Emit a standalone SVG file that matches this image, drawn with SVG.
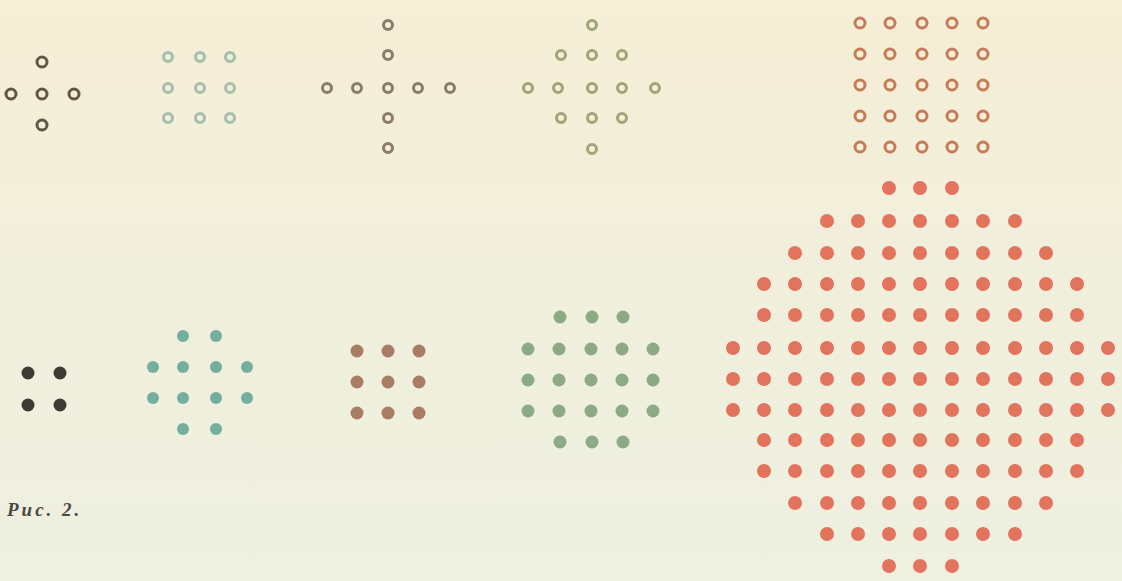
<svg xmlns="http://www.w3.org/2000/svg" width="1122" height="581" viewBox="0 0 1122 581">
<defs>
<linearGradient id="bg" x1="0" y1="0" x2="0" y2="1">
<stop offset="0" stop-color="#f6eed6"/>
<stop offset="0.45" stop-color="#f1efdc"/>
<stop offset="1" stop-color="#eef0e0"/>
</linearGradient>
<style>
.h{fill:none;stroke-width:3}
.h1{stroke:#605646}
.h2{stroke:#a3bdae}
.h3{stroke:#8c7a6a}
.h4{stroke:#9ea677}
.h5{stroke:#c57b55}
.f1{fill:#3f3a33}
.f2{fill:#74ae9e}
.f3{fill:#a97c64}
.f4{fill:#8caa84}
.f5{fill:#e2735c}
.cap{font-family:"Liberation Serif",serif;font-weight:bold;font-style:italic;font-size:19px;letter-spacing:3px;fill:#4d4842}
</style>
</defs>
<rect width="1122" height="581" fill="url(#bg)"/>

<g id="cross5" class="h h1">
<circle cx="42" cy="62" r="5"/>
<circle cx="11" cy="94" r="5"/><circle cx="42" cy="94" r="5"/><circle cx="74" cy="94" r="5"/>
<circle cx="42" cy="125" r="5"/>
</g>

<g id="square9" class="h h2">
<circle cx="168" cy="57" r="4.5"/><circle cx="200" cy="57" r="4.5"/><circle cx="230" cy="57" r="4.5"/>
<circle cx="168" cy="88" r="4.5"/><circle cx="200" cy="88" r="4.5"/><circle cx="230" cy="88" r="4.5"/>
<circle cx="168" cy="118" r="4.5"/><circle cx="200" cy="118" r="4.5"/><circle cx="230" cy="118" r="4.5"/>
</g>

<g id="cross9" class="h h3">
<circle cx="388" cy="25" r="4.5"/>
<circle cx="388" cy="55" r="4.5"/>
<circle cx="327" cy="88" r="4.5"/><circle cx="357" cy="88" r="4.5"/><circle cx="388" cy="88" r="4.5"/><circle cx="418" cy="88" r="4.5"/><circle cx="450" cy="88" r="4.5"/>
<circle cx="388" cy="118" r="4.5"/>
<circle cx="388" cy="148" r="4.5"/>
</g>

<g id="diamond13" class="h h4">
<circle cx="592" cy="25" r="4.5"/>
<circle cx="561" cy="55" r="4.5"/><circle cx="592" cy="55" r="4.5"/><circle cx="622" cy="55" r="4.5"/>
<circle cx="528" cy="88" r="4.5"/><circle cx="558" cy="88" r="4.5"/><circle cx="592" cy="88" r="4.5"/><circle cx="622" cy="88" r="4.5"/><circle cx="655" cy="88" r="4.5"/>
<circle cx="561" cy="118" r="4.5"/><circle cx="592" cy="118" r="4.5"/><circle cx="622" cy="118" r="4.5"/>
<circle cx="592" cy="149" r="4.5"/>
</g>

<g id="square25" class="h h5">
<circle cx="860" cy="23" r="5"/><circle cx="890" cy="23" r="5"/><circle cx="922" cy="23" r="5"/><circle cx="952" cy="23" r="5"/><circle cx="983" cy="23" r="5"/>
<circle cx="860" cy="54" r="5"/><circle cx="890" cy="54" r="5"/><circle cx="922" cy="54" r="5"/><circle cx="952" cy="54" r="5"/><circle cx="983" cy="54" r="5"/>
<circle cx="860" cy="85" r="5"/><circle cx="890" cy="85" r="5"/><circle cx="922" cy="85" r="5"/><circle cx="952" cy="85" r="5"/><circle cx="983" cy="85" r="5"/>
<circle cx="860" cy="116" r="5"/><circle cx="890" cy="116" r="5"/><circle cx="922" cy="116" r="5"/><circle cx="952" cy="116" r="5"/><circle cx="983" cy="116" r="5"/>
<circle cx="860" cy="147" r="5"/><circle cx="890" cy="147" r="5"/><circle cx="922" cy="147" r="5"/><circle cx="952" cy="147" r="5"/><circle cx="983" cy="147" r="5"/>
</g>

<g id="dots4" class="f1">
<circle cx="28" cy="373" r="6.5"/><circle cx="60" cy="373" r="6.5"/>
<circle cx="28" cy="405" r="6.5"/><circle cx="60" cy="405" r="6.5"/>
</g>

<g id="dots12" class="f2">
<circle cx="183" cy="336" r="6"/><circle cx="216" cy="336" r="6"/>
<circle cx="153" cy="367" r="6"/><circle cx="183" cy="367" r="6"/><circle cx="216" cy="367" r="6"/><circle cx="247" cy="367" r="6"/>
<circle cx="153" cy="398" r="6"/><circle cx="183" cy="398" r="6"/><circle cx="216" cy="398" r="6"/><circle cx="247" cy="398" r="6"/>
<circle cx="183" cy="429" r="6"/><circle cx="216" cy="429" r="6"/>
</g>

<g id="dots9" class="f3">
<circle cx="357" cy="351" r="6.5"/><circle cx="388" cy="351" r="6.5"/><circle cx="419" cy="351" r="6.5"/>
<circle cx="357" cy="382" r="6.5"/><circle cx="388" cy="382" r="6.5"/><circle cx="419" cy="382" r="6.5"/>
<circle cx="357" cy="413" r="6.5"/><circle cx="388" cy="413" r="6.5"/><circle cx="419" cy="413" r="6.5"/>
</g>

<g id="dots21" class="f4">
<circle cx="560" cy="317" r="6.5"/><circle cx="592" cy="317" r="6.5"/><circle cx="623" cy="317" r="6.5"/>
<circle cx="528" cy="349" r="6.5"/><circle cx="559" cy="349" r="6.5"/><circle cx="591" cy="349" r="6.5"/><circle cx="622" cy="349" r="6.5"/><circle cx="653" cy="349" r="6.5"/>
<circle cx="528" cy="380" r="6.5"/><circle cx="559" cy="380" r="6.5"/><circle cx="591" cy="380" r="6.5"/><circle cx="622" cy="380" r="6.5"/><circle cx="653" cy="380" r="6.5"/>
<circle cx="528" cy="411" r="6.5"/><circle cx="559" cy="411" r="6.5"/><circle cx="591" cy="411" r="6.5"/><circle cx="622" cy="411" r="6.5"/><circle cx="653" cy="411" r="6.5"/>
<circle cx="560" cy="442" r="6.5"/><circle cx="592" cy="442" r="6.5"/><circle cx="623" cy="442" r="6.5"/>
</g>

<g id="dots121" class="f5">
<circle cx="889" cy="188" r="7"/><circle cx="920" cy="188" r="7"/><circle cx="952" cy="188" r="7"/>
<circle cx="827" cy="221" r="7"/><circle cx="858" cy="221" r="7"/><circle cx="889" cy="221" r="7"/><circle cx="920" cy="221" r="7"/><circle cx="952" cy="221" r="7"/><circle cx="983" cy="221" r="7"/><circle cx="1015" cy="221" r="7"/>
<circle cx="795" cy="253" r="7"/><circle cx="827" cy="253" r="7"/><circle cx="858" cy="253" r="7"/><circle cx="889" cy="253" r="7"/><circle cx="920" cy="253" r="7"/><circle cx="952" cy="253" r="7"/><circle cx="983" cy="253" r="7"/><circle cx="1015" cy="253" r="7"/><circle cx="1046" cy="253" r="7"/>
<circle cx="764" cy="284" r="7"/><circle cx="795" cy="284" r="7"/><circle cx="827" cy="284" r="7"/><circle cx="858" cy="284" r="7"/><circle cx="889" cy="284" r="7"/><circle cx="920" cy="284" r="7"/><circle cx="952" cy="284" r="7"/><circle cx="983" cy="284" r="7"/><circle cx="1015" cy="284" r="7"/><circle cx="1046" cy="284" r="7"/><circle cx="1077" cy="284" r="7"/>
<circle cx="764" cy="315" r="7"/><circle cx="795" cy="315" r="7"/><circle cx="827" cy="315" r="7"/><circle cx="858" cy="315" r="7"/><circle cx="889" cy="315" r="7"/><circle cx="920" cy="315" r="7"/><circle cx="952" cy="315" r="7"/><circle cx="983" cy="315" r="7"/><circle cx="1015" cy="315" r="7"/><circle cx="1046" cy="315" r="7"/><circle cx="1077" cy="315" r="7"/>
<circle cx="733" cy="348" r="7"/><circle cx="764" cy="348" r="7"/><circle cx="795" cy="348" r="7"/><circle cx="827" cy="348" r="7"/><circle cx="858" cy="348" r="7"/><circle cx="889" cy="348" r="7"/><circle cx="920" cy="348" r="7"/><circle cx="952" cy="348" r="7"/><circle cx="983" cy="348" r="7"/><circle cx="1015" cy="348" r="7"/><circle cx="1046" cy="348" r="7"/><circle cx="1077" cy="348" r="7"/><circle cx="1108" cy="348" r="7"/>
<circle cx="733" cy="379" r="7"/><circle cx="764" cy="379" r="7"/><circle cx="795" cy="379" r="7"/><circle cx="827" cy="379" r="7"/><circle cx="858" cy="379" r="7"/><circle cx="889" cy="379" r="7"/><circle cx="920" cy="379" r="7"/><circle cx="952" cy="379" r="7"/><circle cx="983" cy="379" r="7"/><circle cx="1015" cy="379" r="7"/><circle cx="1046" cy="379" r="7"/><circle cx="1077" cy="379" r="7"/><circle cx="1108" cy="379" r="7"/>
<circle cx="733" cy="410" r="7"/><circle cx="764" cy="410" r="7"/><circle cx="795" cy="410" r="7"/><circle cx="827" cy="410" r="7"/><circle cx="858" cy="410" r="7"/><circle cx="889" cy="410" r="7"/><circle cx="920" cy="410" r="7"/><circle cx="952" cy="410" r="7"/><circle cx="983" cy="410" r="7"/><circle cx="1015" cy="410" r="7"/><circle cx="1046" cy="410" r="7"/><circle cx="1077" cy="410" r="7"/><circle cx="1108" cy="410" r="7"/>
<circle cx="764" cy="440" r="7"/><circle cx="795" cy="440" r="7"/><circle cx="827" cy="440" r="7"/><circle cx="858" cy="440" r="7"/><circle cx="889" cy="440" r="7"/><circle cx="920" cy="440" r="7"/><circle cx="952" cy="440" r="7"/><circle cx="983" cy="440" r="7"/><circle cx="1015" cy="440" r="7"/><circle cx="1046" cy="440" r="7"/><circle cx="1077" cy="440" r="7"/>
<circle cx="764" cy="471" r="7"/><circle cx="795" cy="471" r="7"/><circle cx="827" cy="471" r="7"/><circle cx="858" cy="471" r="7"/><circle cx="889" cy="471" r="7"/><circle cx="920" cy="471" r="7"/><circle cx="952" cy="471" r="7"/><circle cx="983" cy="471" r="7"/><circle cx="1015" cy="471" r="7"/><circle cx="1046" cy="471" r="7"/><circle cx="1077" cy="471" r="7"/>
<circle cx="795" cy="503" r="7"/><circle cx="827" cy="503" r="7"/><circle cx="858" cy="503" r="7"/><circle cx="889" cy="503" r="7"/><circle cx="920" cy="503" r="7"/><circle cx="952" cy="503" r="7"/><circle cx="983" cy="503" r="7"/><circle cx="1015" cy="503" r="7"/><circle cx="1046" cy="503" r="7"/>
<circle cx="827" cy="534" r="7"/><circle cx="858" cy="534" r="7"/><circle cx="889" cy="534" r="7"/><circle cx="920" cy="534" r="7"/><circle cx="952" cy="534" r="7"/><circle cx="983" cy="534" r="7"/><circle cx="1015" cy="534" r="7"/>
<circle cx="889" cy="566" r="7"/><circle cx="920" cy="566" r="7"/><circle cx="952" cy="566" r="7"/>
</g>

<g id="caption">
<text class="cap" x="7" y="516">Рис. 2.</text>
</g>
</svg>
